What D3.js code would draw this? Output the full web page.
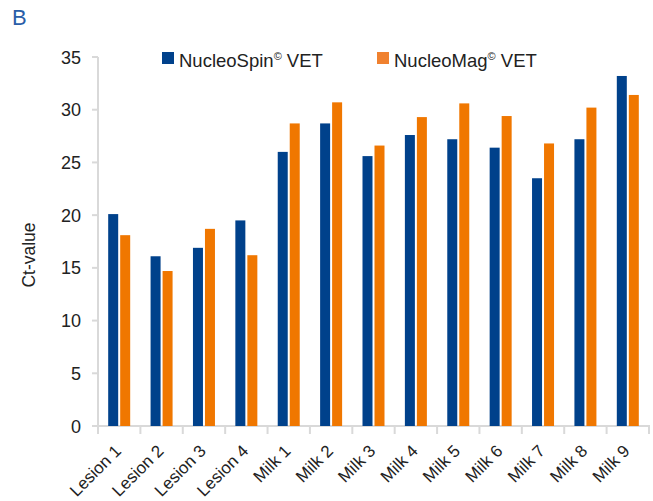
<!DOCTYPE html>
<html>
<head>
<meta charset="utf-8">
<script src="https://cdn.jsdelivr.net/npm/d3@7"></script>
<style>
  body { margin: 0; background: #fff; }
  text { font-family: "Liberation Sans", Arial, sans-serif; }
</style>
</head>
<body>
<div id="chart"></div>
<script>
var categories = ["Lesion 1", "Lesion 2", "Lesion 3", "Lesion 4", "Milk 1", "Milk 2", "Milk 3", "Milk 4", "Milk 5", "Milk 6", "Milk 7", "Milk 8", "Milk 9"]
var series_names = ["NucleoSpin", "NucleoMag"]
var spin_values = [20.1, 16.1, 16.9, 19.5, 26.0, 28.7, 25.6, 27.6, 27.2, 26.4, 23.5, 27.2, 33.2]
var mag_values = [18.1, 14.7, 18.7, 16.2, 28.7, 30.7, 26.6, 29.3, 30.6, 29.4, 26.8, 30.2, 31.4]
var y_ticks = [0, 5, 10, 15, 20, 25, 30, 35]

var width = 653
var height = 501
var blue = '#00418b'
var orange = '#f07700'
var axis_color = '#d9d9d9'

var svg = d3.select('#chart').append('svg').attr('width', width).attr('height', height)

var x = d3.scaleBand().domain(categories).range([98, 649])
var y = d3.scaleLinear().domain([0, 35]).range([426, 57])

// panel letter
svg.append('text').attr('x', 12).attr('y', 25).attr('font-size', 22).attr('fill', '#2a5ea8').text('B')

// y axis
svg.append('line').attr('x1', 98).attr('x2', 98).attr('y1', y(35)).attr('y2', y(0))
    .attr('stroke', axis_color).attr('stroke-width', 2)
svg.selectAll('.ytick').data(y_ticks).enter().append('line')
    .attr('x1', 92).attr('x2', 98).attr('y1', d => y(d)).attr('y2', d => y(d))
    .attr('stroke', axis_color).attr('stroke-width', 2)
svg.selectAll('.ylab').data(y_ticks).enter().append('text')
    .attr('x', 81).attr('y', d => y(d) + 6.5).attr('text-anchor', 'end')
    .attr('font-size', 18).attr('fill', '#222').text(d => d)

svg.append('text').attr('transform', 'translate(35,255) rotate(-90)')
    .attr('text-anchor', 'middle').attr('font-size', 17.5).attr('fill', '#222').text('Ct-value')

// x axis
svg.append('line').attr('x1', 97).attr('x2', 650).attr('y1', y(0)).attr('y2', y(0))
    .attr('stroke', axis_color).attr('stroke-width', 2)
var bounds = categories.map(c => x(c)).concat([x.range()[1]])
svg.selectAll('.xtick').data(bounds).enter().append('line')
    .attr('x1', d => d).attr('x2', d => d).attr('y1', y(0)).attr('y2', y(0) + 8)
    .attr('stroke', axis_color).attr('stroke-width', 2)
svg.selectAll('.xlab').data(categories).enter().append('text')
    .attr('transform', d => 'translate(' + (x(d) + x.bandwidth() / 2 + 3) + ',452) rotate(-45)')
    .attr('text-anchor', 'end').attr('font-size', 17).attr('fill', '#222').text(d => d)

// bars
var bw = 10
svg.selectAll('.spin').data(spin_values).enter().append('rect')
    .attr('x', (d, i) => x(categories[i]) + x.bandwidth() / 2 - bw - 1)
    .attr('y', d => y(d)).attr('width', bw).attr('height', d => y(0) - y(d))
    .attr('fill', blue)
svg.selectAll('.mag').data(mag_values).enter().append('rect')
    .attr('x', (d, i) => x(categories[i]) + x.bandwidth() / 2 + 1)
    .attr('y', d => y(d)).attr('width', bw).attr('height', d => y(0) - y(d))
    .attr('fill', orange)

// legend
var legend = [
    {name: 'NucleoSpin', color: blue, lx: 162},
    {name: 'NucleoMag', color: '#f0812f', lx: 377}
]
legend.forEach(function(l){
    svg.append('rect').attr('x', l.lx).attr('y', 52).attr('width', 12).attr('height', 12).attr('fill', l.color)
    var t = svg.append('text').attr('x', l.lx + 17).attr('y', 67).attr('font-size', 18.5).attr('fill', '#222')
    t.append('tspan').text(l.name)
    t.append('tspan').attr('font-size', 11).attr('dy', -7).text('©')
    t.append('tspan').attr('dy', 7).text(' VET')
})
</script>
</body>
</html>
